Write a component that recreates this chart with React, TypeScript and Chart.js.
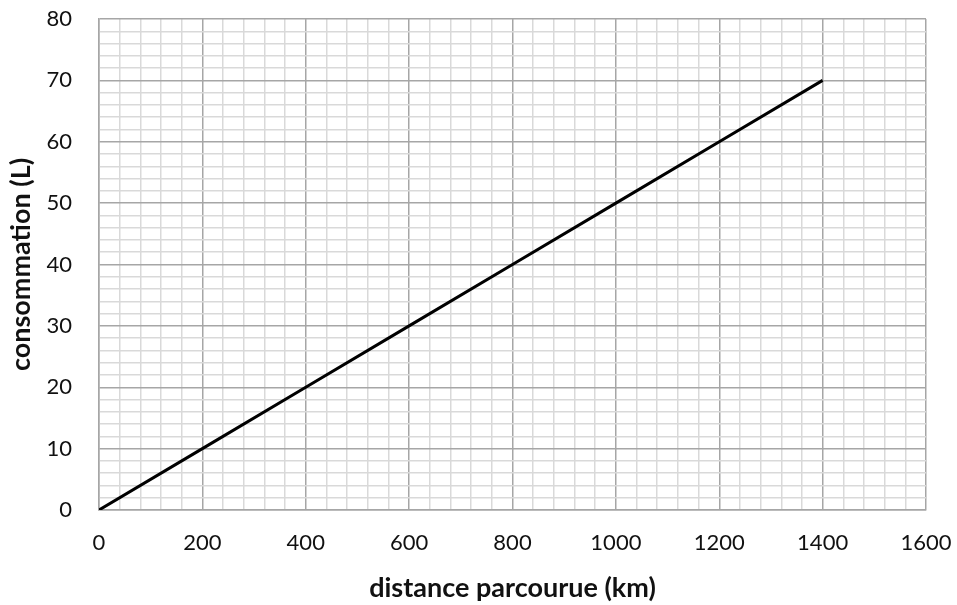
import React, { useEffect, useRef } from "react";
import { Chart, registerables } from "chart.js";

Chart.register(...registerables);

const distances = [0, 200, 400, 600, 800, 1000, 1200, 1400];
const consumption = [0, 10, 20, 30, 40, 50, 60, 70];
const xTitle = "distance parcourue (km)";
const yTitle = "consommation (L)";

const FONT = "Lato, 'Open Sans', sans-serif";

export default function App() {
  const ref = useRef<HTMLCanvasElement>(null);
  useEffect(() => {
    document.body.style.margin = "0";
    const ctx = ref.current!;
    const chart = new Chart(ctx, {
      type: "scatter",
      data: {
        datasets: [
          {
            data: distances.map((d, i) => ({ x: d, y: consumption[i] })),
            showLine: true,
            borderColor: "#000000",
            borderWidth: 3,
            pointRadius: 0,
            fill: false,
          },
        ],
      },
      options: {
        animation: false,
        responsive: false,
        maintainAspectRatio: false,
        layout: { padding: { left: 5, right: 31, top: 19, bottom: 1 } },
        plugins: { legend: { display: false }, tooltip: { enabled: false } },
        scales: {
          x: {
            type: "linear",
            min: 0,
            max: 1600,
            afterFit: (s: any) => {
              s.height = 94;
              s.paddingLeft = 0;
              s.paddingRight = 0;
            },
            ticks: {
              stepSize: 40,
              autoSkip: false,
              maxRotation: 0,
              color: "#111",
              font: { family: FONT, size: 22 },
              padding: 20,
              callback: (v: any) => (Number(v) % 200 === 0 ? String(v) : ""),
            },
            grid: {
              color: (c: any) => (c.tick && c.tick.value % 200 === 0 ? "#a6a6a6" : "#d9d9d9"),
              lineWidth: 1.5,
              drawTicks: false,
            },
            border: { color: "#a6a6a6", width: 1.5 },
            title: {
              display: true,
              text: xTitle,
              color: "#111",
              font: { family: FONT, size: 27, weight: "bold" },
              padding: { top: 16, bottom: 0 },
            },
          },
          y: {
            type: "linear",
            min: 0,
            max: 80,
            afterFit: (s: any) => {
              s.width = 94;
              s.paddingTop = 0;
              s.paddingBottom = 0;
            },
            ticks: {
              stepSize: 2,
              autoSkip: false,
              color: "#111",
              font: { family: FONT, size: 22 },
              padding: 27,
              callback: (v: any) => (Number(v) % 10 === 0 ? String(v) : ""),
            },
            grid: {
              color: (c: any) => (c.tick && c.tick.value % 10 === 0 ? "#a6a6a6" : "#d9d9d9"),
              lineWidth: 1.5,
              drawTicks: false,
            },
            border: { color: "#a6a6a6", width: 1.5 },
            title: {
              display: true,
              text: yTitle,
              color: "#111",
              font: { family: FONT, size: 27, weight: "bold" },
              padding: { top: 0, bottom: 0 },
            },
          },
        },
      },
    });
    return () => chart.destroy();
  }, []);
  return (
    <div style={{ position: "absolute", left: 0, top: 0, width: 957, height: 605, background: "#fff" }}>
      <canvas ref={ref} width={957} height={605} style={{ width: 957, height: 605 }} />
    </div>
  );
}
